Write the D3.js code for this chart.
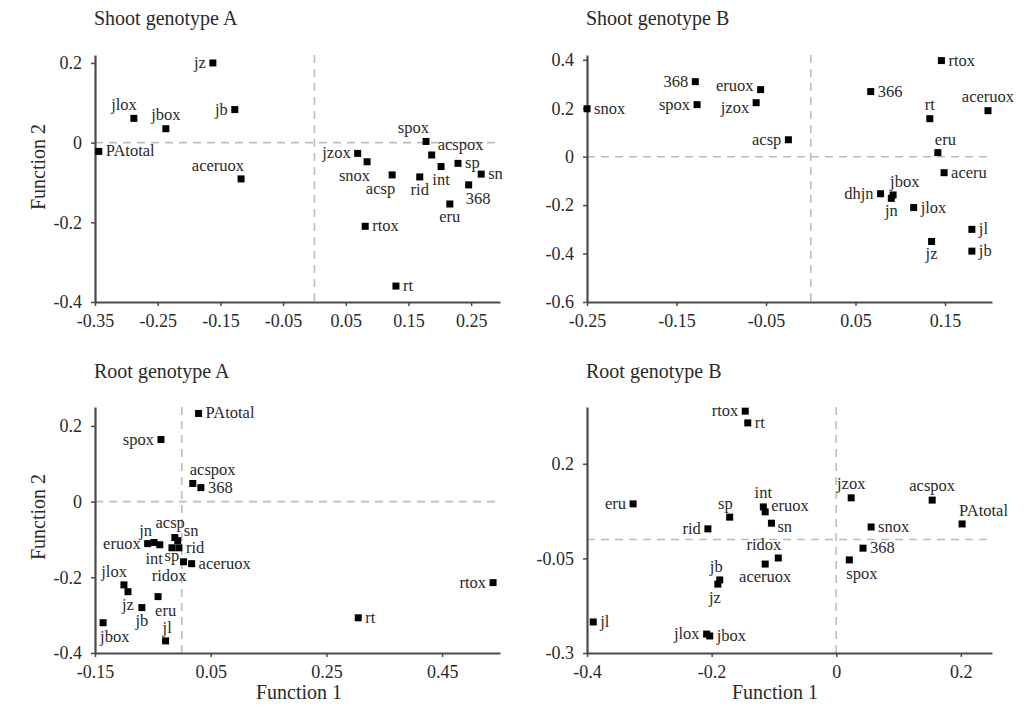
<!DOCTYPE html>
<html><head><meta charset="utf-8">
<script src="https://cdn.jsdelivr.net/npm/d3@7"></script>
<style>body{margin:0;background:#fff}</style>
</head><body><svg id="c" width="1030" height="709"></svg>
<script>
// ---------- DATA ----------
const shootA_names = ["jz","jlox","jbox","jb","PAtotal","aceruox","spox","jzox","snox","acspox","sp","int","sn","acsp","rid","368","eru","rtox","rt"];
const shootA_f1 = [-0.162,-0.288,-0.237,-0.127,-0.344,-0.117,0.178,0.069,0.084,0.187,0.229,0.202,0.266,0.124,0.168,0.246,0.216,0.081,0.130];
const shootA_f2 = [0.200,0.061,0.035,0.083,-0.022,-0.091,0.003,-0.027,-0.048,-0.031,-0.052,-0.060,-0.079,-0.081,-0.086,-0.106,-0.154,-0.210,-0.360];
const shootA_lab = ["l","tl","t","l","r","tl","tl","l","bl","ru","r","b","r","bl","b","br","b","r","r"];

const shootB_names = ["snox","368","spox","eruox","jzox","acsp","rtox","366","rt","aceruox","eru","aceru","dhjn","jbox","jn","jlox","jl","jz","jb"];
const shootB_f1 = [-0.250,-0.129,-0.127,-0.056,-0.061,-0.025,0.146,0.067,0.133,0.198,0.142,0.149,0.078,0.092,0.090,0.115,0.180,0.135,0.180];
const shootB_f2 = [0.198,0.310,0.215,0.277,0.223,0.070,0.397,0.269,0.157,0.190,0.017,-0.066,-0.153,-0.158,-0.172,-0.210,-0.300,-0.350,-0.390];
const shootB_lab = ["r","l","l","lu","ld","l","r","r","t","t","tr","r","l","tr","b","r","r","b","r"];

const rootA_names = ["PAtotal","spox","acspox","368","eruox","jn","int","acsp","sn","rid","sp","ridox","aceruox","jlox","jz","eru","jb","jbox","jl","rtox","rt"];
const rootA_f1 = [0.029,-0.036,0.019,0.033,-0.059,-0.048,-0.038,-0.012,-0.007,-0.005,-0.017,0.003,0.017,-0.100,-0.093,-0.041,-0.069,-0.136,-0.028,0.538,0.305];
const rootA_f2 = [0.233,0.164,0.048,0.037,-0.111,-0.108,-0.114,-0.095,-0.103,-0.122,-0.122,-0.159,-0.164,-0.220,-0.238,-0.251,-0.280,-0.320,-0.368,-0.214,-0.307];
const rootA_lab = ["r","l","tr","r","l","tll","bl","tl2","ru","r","b2","bl","r","tl","b","br","b","br","tr","l","r"];

const rootB_names = ["rtox","rt","eru","sp","rid","int","eruox","sn","ridox","aceruox","jb","jz","jl","jlox","jbox","jzox","acspox","PAtotal","snox","368","spox"];
const rootB_f1 = [-0.146,-0.142,-0.326,-0.171,-0.206,-0.117,-0.114,-0.104,-0.093,-0.114,-0.187,-0.190,-0.390,-0.208,-0.203,0.024,0.154,0.202,0.056,0.043,0.021];
const rootB_f2 = [0.339,0.308,0.094,0.059,0.028,0.086,0.073,0.043,-0.049,-0.065,-0.107,-0.118,-0.218,-0.250,-0.255,0.110,0.104,0.041,0.033,-0.023,-0.054];
const rootB_lab = ["l","r","l","tl","l","t","r0","rd","tl","b","tl","bl","r","l","r","t","t","tr","r","r","br"];

const titles = ["Shoot genotype A","Shoot genotype B","Root genotype A","Root genotype B"];

const shootA_xTicks = [-0.35,-0.25,-0.15,-0.05,0.05,0.15,0.25];
const shootA_xTickLabels = ["-0.35","-0.25","-0.15","-0.05","0.05","0.15","0.25"];
const shootA_yTicks = [-0.4,-0.2,0,0.2];
const shootA_yTickLabels = ["-0.4","-0.2","0","0.2"];

const shootB_xTicks = [-0.25,-0.15,-0.05,0.05,0.15];
const shootB_xTickLabels = ["-0.25","-0.15","-0.05","0.05","0.15"];
const shootB_yTicks = [-0.6,-0.4,-0.2,0,0.2,0.4];
const shootB_yTickLabels = ["-0.6","-0.4","-0.2","0","0.2","0.4"];

const rootA_xTicks = [-0.15,0.05,0.25,0.45];
const rootA_xTickLabels = ["-0.15","0.05","0.25","0.45"];
const rootA_yTicks = [-0.4,-0.2,0,0.2];
const rootA_yTickLabels = ["-0.4","-0.2","0","0.2"];

const rootB_xTicks = [-0.4,-0.2,0,0.2];
const rootB_xTickLabels = ["-0.4","-0.2","0","0.2"];
const rootB_yTicks = [-0.3,-0.05,0.2];
const rootB_yTickLabels = ["-0.3","-0.05","0.2"];

const xDomains = [[-0.35,0.296],[-0.25,0.2025],[-0.15,0.55],[-0.4,0.25]];
const yDomains = [[-0.4,0.22],[-0.6,0.42],[-0.4,0.25],[-0.3,0.35]];

// ---------- LAYOUT ----------
const FONT = "'Liberation Serif','Times New Roman',serif";
const boxes = [
  {x0:95, x1:500, y0:55, y1:302},
  {x0:587, x1:992, y0:55, y1:302},
  {x0:95, x1:500, y0:407, y1:653},
  {x0:587, x1:992, y0:407, y1:653}
];
const titleY = [25,25,378,378];

const panels = [
  {names:shootA_names,f1:shootA_f1,f2:shootA_f2,lab:shootA_lab,xt:shootA_xTicks,xl:shootA_xTickLabels,yt:shootA_yTicks,yl:shootA_yTickLabels},
  {names:shootB_names,f1:shootB_f1,f2:shootB_f2,lab:shootB_lab,xt:shootB_xTicks,xl:shootB_xTickLabels,yt:shootB_yTicks,yl:shootB_yTickLabels},
  {names:rootA_names,f1:rootA_f1,f2:rootA_f2,lab:rootA_lab,xt:rootA_xTicks,xl:rootA_xTickLabels,yt:rootA_yTicks,yl:rootA_yTickLabels},
  {names:rootB_names,f1:rootB_f1,f2:rootB_f2,lab:rootB_lab,xt:rootB_xTicks,xl:rootB_xTickLabels,yt:rootB_yTicks,yl:rootB_yTickLabels}
];

// label placement codes (style only)
const labOff = {
  r:{dx:7,dy:5,a:"start"}, l:{dx:-7,dy:5,a:"end"},
  ru:{dx:6,dy:-5,a:"start"}, r0:{dx:6,dy:-1,a:"start"}, rd:{dx:6,dy:9,a:"start"},
  lu:{dx:-7,dy:1,a:"end"}, ld:{dx:-7,dy:10,a:"end"},
  t:{dx:0,dy:-9,a:"middle"}, b:{dx:0,dy:18,a:"middle"}, b2:{dx:0,dy:13,a:"middle"},
  tl:{dx:3,dy:-8,a:"end"}, tr:{dx:-3,dy:-8,a:"start"},
  tll:{dx:-2,dy:-6,a:"end"}, tl2:{dx:10,dy:-10,a:"end"},
  bl:{dx:3,dy:19,a:"end"}, br:{dx:-3,dy:19,a:"start"}
};

const svg = d3.select("#c");
const AX = "#4a4a4a", TXT = "#2a2a2a";

panels.forEach((p,i)=>{
  const b = boxes[i];
  const x = d3.scaleLinear().domain(xDomains[i]).range([b.x0,b.x1]);
  const y = d3.scaleLinear().domain(yDomains[i]).range([b.y1,b.y0]);
  const g = svg.append("g");

  g.append("text").attr("x",b.x0-1).attr("y",titleY[i])
    .attr("font-family",FONT).attr("font-size",20).attr("fill",TXT).text(titles[i]);

  g.append("line").attr("x1",b.x0).attr("x2",b.x1).attr("y1",y(0)).attr("y2",y(0))
    .attr("stroke","#bdbdbd").attr("stroke-width",1.6).attr("stroke-dasharray","8,6");
  g.append("line").attr("x1",x(0)).attr("x2",x(0)).attr("y1",b.y0).attr("y2",b.y1)
    .attr("stroke","#bdbdbd").attr("stroke-width",1.6).attr("stroke-dasharray","8,6");

  const xa = d3.axisBottom(x).tickValues(p.xt).tickFormat((d,k)=>p.xl[k])
    .tickSize(4).tickSizeOuter(0).tickPadding(8);
  const ya = d3.axisLeft(y).tickValues(p.yt).tickFormat((d,k)=>p.yl[k])
    .tickSize(4).tickSizeOuter(0).tickPadding(9);
  const gx = g.append("g").attr("transform",`translate(0,${b.y1})`).call(xa);
  const gy = g.append("g").attr("transform",`translate(${b.x0},0)`).call(ya);
  [gx,gy].forEach(a=>{
    a.select(".domain").attr("stroke",AX).attr("stroke-width",2.2);
    a.selectAll(".tick line").attr("stroke",AX).attr("stroke-width",1.5);
    a.selectAll(".tick text").attr("font-family",FONT).attr("font-size",18).attr("fill",TXT);
  });

  const data = p.names.map((n,k)=>({n, v1:p.f1[k], v2:p.f2[k], l:p.lab[k]}));
  const s = 7;
  g.selectAll("rect.pt").data(data).enter().append("rect").attr("class","pt")
    .attr("x",d=>x(d.v1)-s/2).attr("y",d=>y(d.v2)-s/2)
    .attr("width",s).attr("height",s).attr("fill","#000");
  g.selectAll("text.lb").data(data).enter().append("text").attr("class","lb")
    .attr("x",d=>x(d.v1)+labOff[d.l].dx).attr("y",d=>y(d.v2)+labOff[d.l].dy)
    .attr("text-anchor",d=>labOff[d.l].a)
    .attr("font-family",FONT).attr("font-size",16.5).attr("fill",TXT).text(d=>d.n);
});

svg.append("text").attr("transform","translate(45,167) rotate(-90)").attr("text-anchor","middle")
  .attr("font-family",FONT).attr("font-size",20).attr("fill",TXT).text("Function 2");
svg.append("text").attr("transform","translate(45,517) rotate(-90)").attr("text-anchor","middle")
  .attr("font-family",FONT).attr("font-size",20).attr("fill",TXT).text("Function 2");
svg.append("text").attr("x",299).attr("y",699).attr("text-anchor","middle")
  .attr("font-family",FONT).attr("font-size",20).attr("fill",TXT).text("Function 1");
svg.append("text").attr("x",775).attr("y",699).attr("text-anchor","middle")
  .attr("font-family",FONT).attr("font-size",20).attr("fill",TXT).text("Function 1");
</script>
</body></html>
